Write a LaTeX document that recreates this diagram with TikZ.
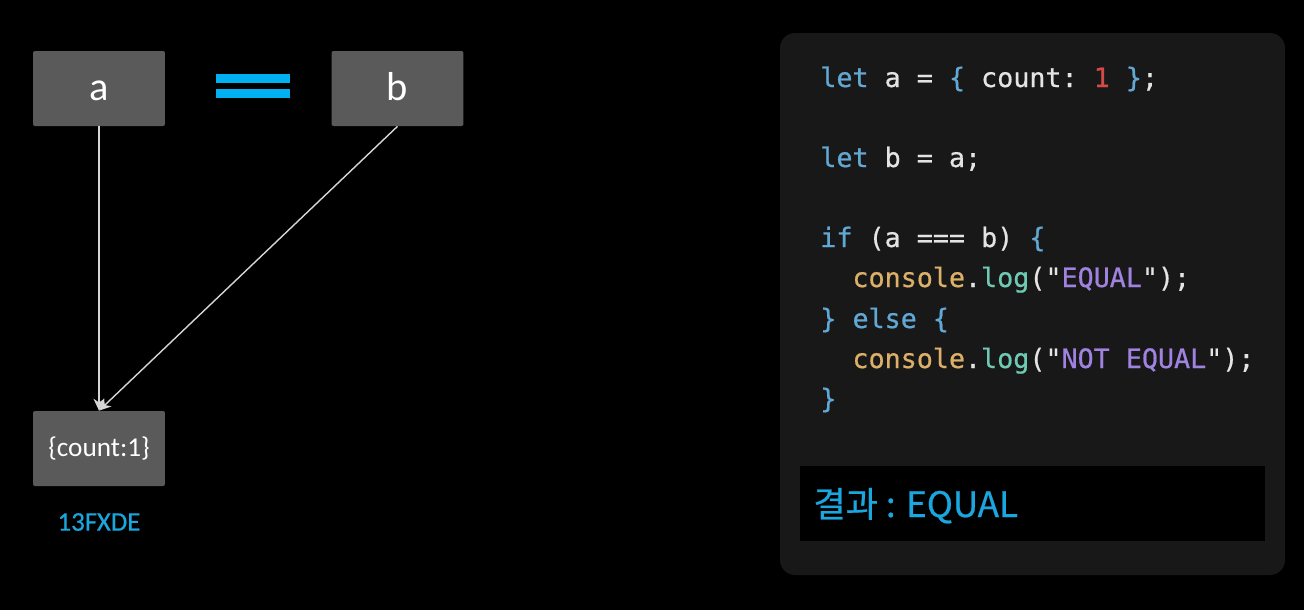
\documentclass[tikz,border=0pt]{standalone}
\usepackage{fontspec}
\setmainfont{Carlito}
\setmonofont[FakeBold=0.6]{DejaVu Sans Mono}
\newfontfamily\kofont[FakeBold=0.6]{Noto Sans CJK KR}
\newfontfamily\addrfont[FakeBold=0.5]{Carlito}
\usetikzlibrary{arrows.meta}

\definecolor{boxgray}{HTML}{5A5A5A}
\definecolor{accent}{HTML}{00B0F0}
\definecolor{addrblue}{HTML}{1AA7E0}
\definecolor{panelbg}{HTML}{181818}
\definecolor{linegray}{HTML}{D6D6D6}
\definecolor{codewhite}{HTML}{E4E4E4}
\definecolor{kwblue}{HTML}{62A8D4}
\definecolor{numred}{HTML}{D24B48}
\definecolor{conyellow}{HTML}{DDB069}
\definecolor{fnteal}{HTML}{6FCAB4}
\definecolor{strpurple}{HTML}{A083E0}

\newcommand{\kwd}[1]{\textcolor{kwblue}{#1}}
\newcommand{\ntok}[1]{\textcolor{numred}{#1}}
\newcommand{\ctok}[1]{\textcolor{conyellow}{#1}}
\newcommand{\ftok}[1]{\textcolor{fnteal}{#1}}
\newcommand{\stok}[1]{\textcolor{strpurple}{#1}}

\tikzset{
  varbox/.style={fill=boxgray, rounded corners=0.4mm, minimum width=2.64cm, minimum height=1.5cm, inner sep=0pt, text=white},
  refline/.style={draw=linegray, line width=0.8pt, -{Stealth[length=2.4mm,width=2.2mm]}},
  codeline/.style={anchor=base west, inner sep=0pt, text=codewhite, font=\ttfamily\fontsize{15.2}{18}\selectfont},
}

\begin{document}
\begin{tikzpicture}[x=0.02cm, y=-0.02cm]
        % Background
        \fill[black] (0,0) rectangle (1304,610);

        % Variables
        \node[varbox, font=\fontsize{23}{26}\selectfont, text height=14pt, text depth=0pt] (a) at (99,88.5) {a};
        \node[varbox, font=\fontsize{23}{26}\selectfont, text height=14pt, text depth=0pt] (b) at (397.5,88.5) {b};
        \fill[accent] (216,74) rectangle (290,83);
        \fill[accent] (216,89) rectangle (290,98);

        % Object in memory
        \node[varbox, font=\fontsize{15.5}{18}\selectfont] (obj) at (99,448.5) {\{count:1\}};
        \node[text=addrblue, font=\addrfont\fontsize{15.3}{18}\selectfont] (addr) at (99,522) {13FXDE};

        % References
        \draw[refline] (a.south) -- (obj.north);
        \draw[refline] (b.south) -- (obj.north);

        % Code panel
        \fill[panelbg, rounded corners=3mm] (780,33) rectangle (1285,575);
        \node[codeline] (l1) at (820,87) {\kwd{let} a = \kwd{\{} count: \ntok{1} \kwd{\}};};
        \node[codeline] (l2) at (820,167) {\kwd{let} b = a;};
        \node[codeline] (l3) at (820,247) {\kwd{if} (a === b) \kwd{\{}};
        \node[codeline] (l4) at (820,287) {\hphantom{xx}\ctok{console}.\ftok{log}("\stok{EQUAL}");};
        \node[codeline] (l5) at (820,328) {\kwd{\} else \{}};
        \node[codeline] (l6) at (820,368) {\hphantom{xx}\ctok{console}.\ftok{log}("\stok{NOT EQUAL}");};
        \node[codeline] (l7) at (820,408) {\kwd{\}}};

        % Result
        \node[fill=black, minimum width=9.3cm, minimum height=1.5cm, inner sep=0pt] (result) at (1032.5,503.5) {};
        \node[anchor=base west, inner sep=0pt, text=addrblue, font=\kofont\fontsize{20}{24}\selectfont] (restext) at (813,517) {결과 : EQUAL};

\end{tikzpicture}
\end{document}
